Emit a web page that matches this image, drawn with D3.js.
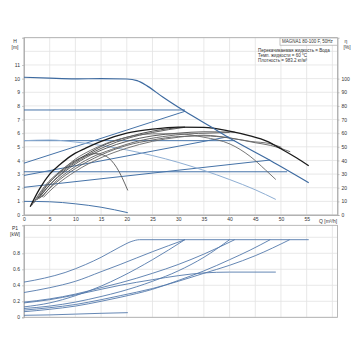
<!DOCTYPE html>
<html><head><meta charset="utf-8">
<script src="https://cdn.jsdelivr.net/npm/d3@7"></script>
<style>html,body{margin:0;padding:0;background:#fff}svg{display:block}text{font-family:"Liberation Sans",Arial,sans-serif;fill:#333}</style>
</head><body>
<svg id="c" width="360" height="360"></svg>
<script>
// ---------- data ----------
const qTicks = [0,5,10,15,20,25,30,35,40,45,50,55];
const hTicks = [0,1,2,3,4,5,6,7,8,9,10,11];
const etaTicks = [0,10,20,30,40,50,60,70,80,90,100];
const pTicks = [0,0.2,0.4,0.6,0.8];
const pTickLabels = ["0","0.2","0.4","0.6","0.8"];
const legendTitle = "MAGNA1 80-100 F, 50Hz";
const legendLines = ["Перекачиваемая жидкость = Вода","Темп. жидкости = 60 °C","Плотность = 983.2 кг/м³"];

// H curves [Q, H]
const hMax  = [[0,10.1],[5,10.03],[10,9.98],[15,10.0],[20,9.97],[22,9.85],[24,9.45],[27,8.65],[31.3,7.6],[36.2,6.5],[41,5.42],[48,3.98],[55.4,2.37]];
const hCp3  = [[0,7.7],[31.3,7.7]];
const hCp2  = [[0,5.45],[41,5.45]];
const hCp1  = [[0,3.17],[51.2,3.17]];
const hPp3  = [[0,3.8],[31.3,7.6]];
const hPp2  = [[0,2.9],[39.8,5.74]];
const hPp1  = [[0,2.03],[47.9,4.03]];
const hSpd2 = [[0,5.45],[5,5.5],[10,5.35],[15,5.1],[20,4.77],[25,4.36],[30,3.86],[35,3.27],[40,2.6],[45,1.85],[49,1.14]];
const hSpd1 = [[0,1.0],[5,0.97],[10,0.82],[15,0.57],[20.2,0.17]];

// efficiency curves [Q, eta %]
const eMax  = [[1.2,6],[3,19],[5,30],[7,37],[9,43],[12,49],[15,54],[20,60],[25,63],[30,64.5],[35,64.3],[40,61.5],[44,58],[47.2,54.2],[50.4,47.7],[53,42],[55.4,36.1]];
const eSpd2 = [[2,9],[4,20],[6,28],[8,35],[10,41],[13,47.5],[16,52.5],[20,57],[25,59.5],[30,59.5],[35,57],[40.1,52],[44,43],[47,33],[49,26]];
const eSpd1 = [[1.5,7],[4,21],[7,32],[10,40],[12,43.5],[14,45],[16,43],[18,35],[20.2,18]];
const eCp3  = [[2.5,11],[5,24],[8,34],[12,44],[16,52],[20,57],[25,61.5],[31.3,64.5]];
const ePp3  = [[3,13],[5,22],[8,33],[12,43],[16,50.5],[20,56],[25,60.5],[31.3,64.3]];
const eCp2  = [[2.8,12],[5,22],[8,32],[12,42],[16,49],[20,54],[25,58],[30,60],[35,61],[41,60.8]];
const ePp2  = [[3.5,13],[6,24],[9,33],[13,42],[17,48],[22,54],[27,57.5],[32,59.5],[36,60],[40,60.5]];
const eCp1  = [[3,12],[6,23],[10,34],[15,44],[20,51],[25,55],[30,57.5],[35,58],[40,56.5],[45,53],[48,51],[51.8,46.4]];
const ePp1  = [[3.8,13],[6,21],[10,32],[15,42],[20,49],[25,54],[30,57],[35,58.5],[40,56.5],[44,54],[47.9,52.3],[50.1,49.6]];

// P1 curves [Q, kW]
const pMax  = [[0,0.44],[4,0.49],[8,0.56],[12,0.66],[15,0.75],[18.7,0.88],[21,0.95],[22.5,0.97],[55.4,0.97]];
const pCp3  = [[0,0.31],[5,0.37],[10,0.45],[15,0.57],[18.7,0.66],[25,0.82],[31.3,0.97]];
const pPp3  = [[0,0.13],[5,0.18],[10,0.27],[15,0.39],[18.7,0.5],[25,0.72],[31.3,0.97]];
const pCp2  = [[0,0.19],[5,0.23],[10,0.29],[15,0.37],[18.7,0.43],[25,0.55],[30,0.66],[35,0.79],[41,0.97]];
const pSpd2 = [[0,0.18],[5,0.22],[10,0.28],[15,0.35],[18.7,0.4],[25,0.47],[30,0.52],[35,0.555],[40,0.565],[49,0.565]];
const pPp2  = [[0,0.11],[5,0.14],[10,0.19],[15,0.26],[18.7,0.32],[25,0.45],[30,0.58],[35,0.75],[40,0.97]];
const pCp1  = [[0,0.09],[5,0.12],[10,0.16],[15,0.22],[18.7,0.27],[25,0.36],[30,0.45],[35,0.55],[40,0.65],[45,0.77],[51.7,0.97]];
const pPp1  = [[0,0.07],[5,0.1],[10,0.14],[15,0.2],[18.7,0.25],[25,0.35],[30,0.46],[35,0.58],[40,0.72],[44,0.84],[47.9,0.97]];
const pSpd1 = [[0,0.025],[5,0.03],[10,0.04],[15,0.05],[20.2,0.058]];

// ---------- drawing ----------
const svg = d3.select("#c");
const L = 24, R = 337.5;
const x = d3.scaleLinear().domain([0,61]).range([L,R]);
const yH = d3.scaleLinear().domain([0,13]).range([215,37.7]);
const yE = d3.scaleLinear().domain([0,130]).range([215,37.7]);
const yP = d3.scaleLinear().domain([0,1.15]).range([317.3,225.3]);
const grid = "#e2e2e2", axisC = "#a8a8a8", fs = 5;

function gridlines(y0, y1, yScale, vals){
  svg.append("g").selectAll("line").data(d3.range(0,61,5)).join("line")
    .attr("x1",d=>x(d)).attr("x2",d=>x(d)).attr("y1",y0).attr("y2",y1)
    .attr("stroke",grid).attr("stroke-width",0.8);
  svg.append("g").selectAll("line").data(vals).join("line")
    .attr("x1",L).attr("x2",R).attr("y1",d=>yScale(d)).attr("y2",d=>yScale(d))
    .attr("stroke",grid).attr("stroke-width",0.8);
}
gridlines(37.7, 215, yH, d3.range(0,14,1));
gridlines(225.3, 317.3, yP, [0,0.2,0.4,0.6,0.8,1.0]);

// frames
svg.append("rect").attr("x",L).attr("y",37.7).attr("width",R-L).attr("height",215-37.7)
  .attr("fill","none").attr("stroke",axisC).attr("stroke-width",0.8);
svg.append("rect").attr("x",L).attr("y",225.3).attr("width",R-L).attr("height",317.3-225.3)
  .attr("fill","none").attr("stroke",axisC).attr("stroke-width",0.8);

// axes
const axL = d3.axisLeft(yH).tickValues(hTicks).tickSize(2).tickPadding(2).tickFormat(d3.format("d"));
const axR = d3.axisRight(yE).tickValues(etaTicks).tickSize(2).tickPadding(2).tickFormat(d3.format("d"));
const axB = d3.axisBottom(x).tickValues(qTicks).tickSize(0).tickPadding(2).tickFormat(d3.format("d"));
const axP = d3.axisLeft(yP).tickValues(pTicks).tickSize(2).tickPadding(2).tickFormat((d,i)=>pTickLabels[i]);
function style(g){ g.select(".domain").attr("stroke",axisC).attr("stroke-width",0.8);
  g.selectAll(".tick line").attr("stroke",axisC).attr("stroke-width",0.6);
  g.selectAll("text").attr("font-size",fs).attr("fill","#333").attr("font-family","Liberation Sans, Arial, sans-serif"); }
svg.append("g").attr("transform",`translate(${L},0)`).call(axL).call(style);
svg.append("g").attr("transform",`translate(${R},0)`).call(axR).call(style);
svg.append("g").attr("transform",`translate(0,215)`).call(axB).call(style);
svg.append("g").attr("transform",`translate(${L},0)`).call(axP).call(style);

// axis titles
function txt(t,xx,yy,anchor,size){ svg.append("text").attr("x",xx).attr("y",yy).attr("font-size",size||fs)
  .attr("text-anchor",anchor||"middle").text(t); }
txt("H",15,43); txt("[m]",15,49);
txt("η",346,43); txt("[%]",347,49);
txt("P1",15,230); txt("[kW]",15,235.5);
txt("Q [m³/h]",319,222.5,"start");

// legend
svg.append("rect").attr("x",280).attr("y",38).attr("width",R-280).attr("height",7.2)
  .attr("fill","#fff").attr("stroke",axisC).attr("stroke-width",0.7);
txt(legendTitle,282,43.3,"start",4.5);
legendLines.forEach((t,i)=>txt(t,258,52+i*5,"start",4.5));

// curves
const lineH = d3.line().x(d=>x(d[0])).y(d=>yH(d[1])).curve(d3.curveMonotoneX);
const lineE = d3.line().x(d=>x(d[0])).y(d=>yE(d[1])).curve(d3.curveMonotoneX);
const lineP = d3.line().x(d=>x(d[0])).y(d=>yP(d[1])).curve(d3.curveMonotoneX);
function draw(gen, data, color, w){ svg.append("path").attr("d",gen(data)).attr("fill","none")
  .attr("stroke",color).attr("stroke-width",w).attr("stroke-linejoin","round"); }

const blue = "#4673a8", lblue = "#8eaed3";
[hCp3,hCp2,hCp1,hPp3,hPp2,hPp1].forEach(s=>draw(lineH,s,blue,1));
draw(lineH,hSpd1,blue,1);
draw(lineH,hSpd2,lblue,1);

[[eSpd1,"#555"],[eCp1,"#5c5c5c"],[ePp1,"#666"],[eCp2,"#4a4a4a"],[ePp2,"#5c5c5c"],[eCp3,"#3c3c3c"],[ePp3,"#505050"],[eSpd2,"#666"]]
  .forEach(([s,c])=>draw(lineE,s,c,0.9));
draw(lineE,eMax,"#1a1a1a",1.3);
draw(lineH,hMax,"#3d6aa0",1.2);

const pblue = "#5479ab";
[pMax,pCp3,pPp3,pCp2,pSpd2,pPp2,pCp1,pPp1,pSpd1].forEach(s=>draw(lineP,s,pblue,0.9));
</script>
</body></html>
